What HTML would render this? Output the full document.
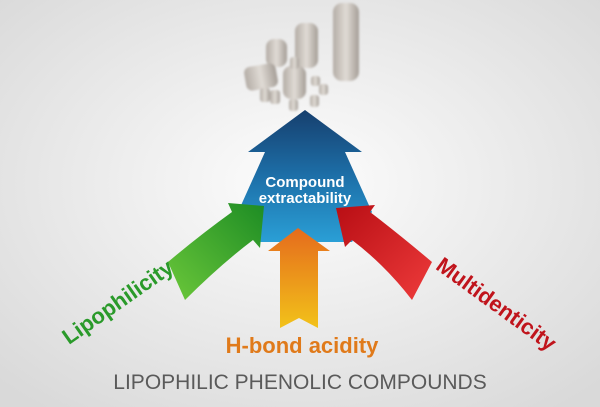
<!DOCTYPE html>
<html><head><style>body{margin:0}svg{display:block}</style></head><body>
<svg width="600" height="407" viewBox="0 0 600 407" xmlns="http://www.w3.org/2000/svg" font-family="Liberation Sans, sans-serif">
<defs>
<radialGradient id="bg" cx="50%" cy="45%" r="70%"><stop offset="0" stop-color="#fdfdfd"/><stop offset="1" stop-color="#d9d9d9"/></radialGradient>
<linearGradient id="bl" x1="0" y1="0" x2="0" y2="1"><stop offset="0" stop-color="#163f6e"/><stop offset="0.5" stop-color="#1d6fa8"/><stop offset="1" stop-color="#2a9fd6"/></linearGradient>
<linearGradient id="or" x1="0" y1="0" x2="0" y2="1"><stop offset="0" stop-color="#e56b1c"/><stop offset="1" stop-color="#f2c21a"/></linearGradient>
<linearGradient id="gr" x1="0" y1="1" x2="1" y2="0"><stop offset="0" stop-color="#6cc83a"/><stop offset="1" stop-color="#1d8c24"/></linearGradient>
<linearGradient id="rd" x1="1" y1="1" x2="0" y2="0"><stop offset="0" stop-color="#ee3b3b"/><stop offset="1" stop-color="#b80e14"/></linearGradient>
<linearGradient id="cy" x1="0" y1="0" x2="1" y2="0"><stop offset="0" stop-color="#b4ada6"/><stop offset="0.5" stop-color="#e0dbd5"/><stop offset="1" stop-color="#a59e97"/></linearGradient>
<filter id="bf"><feGaussianBlur stdDeviation="1"/></filter>
</defs>
<rect width="600" height="407" fill="url(#bg)"/>
<g filter="url(#bf)" fill="url(#cy)">
<rect x="333" y="3" width="26" height="78" rx="9"/>
<rect x="295" y="23" width="23" height="45" rx="8"/>
<rect x="266" y="39" width="21" height="28" rx="8"/>
<rect x="245" y="65" width="32" height="24" rx="6" transform="rotate(-10 261 77)"/>
<rect x="283" y="66" width="23" height="33" rx="8"/>
<rect x="290" y="57" width="9" height="12" rx="3"/>
<rect x="260" y="88" width="10" height="14" rx="3"/>
<rect x="270" y="90" width="10" height="14" rx="3"/>
<rect x="289" y="99" width="9" height="12" rx="3"/>
<rect x="311" y="76" width="9" height="10" rx="3"/>
<rect x="319" y="84" width="9" height="11" rx="3"/>
<rect x="310" y="95" width="9" height="12" rx="3"/>
</g>
<path d="M305 110 L362 152 L345 152 L372 212 L352 242 L258 242 L238 212 L265 152 L248 152 Z" fill="url(#bl)"/>
<path d="M298 228 L330 251 L318 251 L318 328 L299 318 L280 328 L280 251 L268 251 Z" fill="url(#or)"/>
<path d="M185 300 L168 262 Q200 235 232 212 L228 203 L264 206 L260 248 L253 240 Q220 265 185 300 Z" fill="url(#gr)"/>
<path d="M412 300 L432 262 Q400 235 370 212 L375 205 L336 208 L345 247 L352 240 Q385 265 412 300 Z" fill="url(#rd)"/>
<text x="305" y="187" font-size="15" font-weight="bold" fill="#fff" text-anchor="middle">Compound</text>
<text x="305" y="203" font-size="15" font-weight="bold" fill="#fff" text-anchor="middle">extractability</text>
<text x="122" y="308" font-size="22" font-weight="bold" fill="#2a9a2a" text-anchor="middle" transform="rotate(-35 122 308)">Lipophilicity</text>
<text x="302" y="353" font-size="22" font-weight="bold" fill="#e07a1a" text-anchor="middle">H-bond acidity</text>
<text x="492" y="310" font-size="22" font-weight="bold" fill="#c0141c" text-anchor="middle" transform="rotate(36 492 310)">Multidenticity</text>
<text x="300" y="389" font-size="21" fill="#5a5a5a" text-anchor="middle">LIPOPHILIC PHENOLIC COMPOUNDS</text>
</svg>
</body></html>
